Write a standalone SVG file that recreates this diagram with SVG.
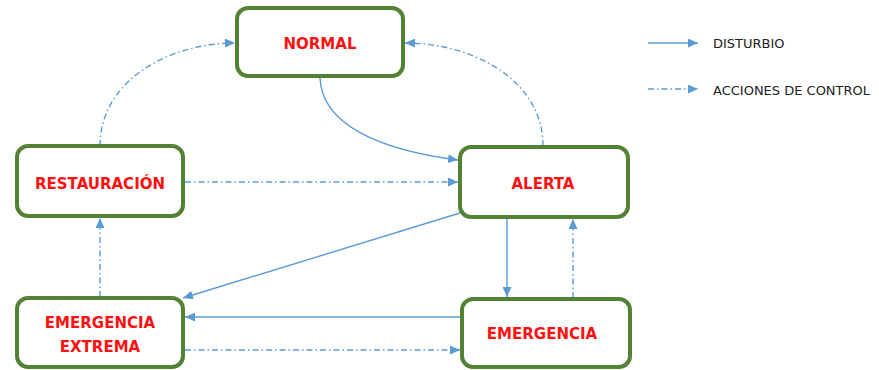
<svg xmlns="http://www.w3.org/2000/svg" width="879" height="370" viewBox="0 0 879 370">
  <style>
    .box { fill: #ffffff; stroke: #548235; stroke-width: 4; }
    .label { font-family: "DejaVu Sans", Verdana, sans-serif; font-weight: bold; font-size: 15px; fill: #ff1010; text-anchor: middle; }
    .legend { font-family: "DejaVu Sans", Verdana, sans-serif; font-size: 13px; fill: #222222; }
    .solid { fill: none; stroke: #5b9bd5; stroke-width: 1.4; marker-end: url(#arrow); }
    .dashdot { fill: none; stroke: #5b9bd5; stroke-width: 1.4; stroke-dasharray: 6 3 1.5 3; marker-end: url(#arrow); }
  </style>
  <defs>
    <marker id="arrow" markerUnits="userSpaceOnUse" markerWidth="11" markerHeight="9" refX="10" refY="4.5" orient="auto">
      <path d="M0,0 L10,4.5 L0,9 z" fill="#5b9bd5"/>
    </marker>
  </defs>
  <rect width="879" height="370" fill="#ffffff"/>

  <g id="connectors">
    <!-- disturbances -->
    <path class="solid" d="M320,78 C322,125 380,150 458,160"/>
    <path class="solid" d="M460,213 L183,298"/>
    <path class="solid" d="M507,218 L507,297"/>
    <path class="solid" d="M460,317 L185,317"/>
    <!-- control actions -->
    <path class="dashdot" d="M100,146 C100,80 170,43 235,43"/>
    <path class="dashdot" d="M543,146 C543,80 473,43 405,43"/>
    <path class="dashdot" d="M185,182 L458,182"/>
    <path class="dashdot" d="M573,298 L573,219"/>
    <path class="dashdot" d="M100,297 L100,218"/>
    <path class="dashdot" d="M185,350 L460,350"/>
  </g>

  <g id="normal">
    <rect class="box" x="237" y="8" width="166" height="68" rx="11"/>
    <text class="label" x="320" y="49">NORMAL</text>
  </g>
  <g id="restauracion">
    <rect class="box" x="17" y="146" width="166" height="70" rx="11"/>
    <text class="label" x="100" y="189">RESTAURACIÓN</text>
  </g>
  <g id="alerta">
    <rect class="box" x="460" y="147" width="168" height="70" rx="11"/>
    <text class="label" x="543" y="189">ALERTA</text>
  </g>
  <g id="emergencia-extrema">
    <rect class="box" x="17" y="298" width="166" height="69" rx="11"/>
    <text class="label" x="100" y="328">EMERGENCIA</text>
    <text class="label" x="100" y="352">EXTREMA</text>
  </g>
  <g id="emergencia">
    <rect class="box" x="462" y="299" width="168" height="68" rx="11"/>
    <text class="label" x="542" y="339">EMERGENCIA</text>
  </g>

  <g id="legend">
    <path class="solid" d="M648,43 L698,43"/>
    <text class="legend" x="713" y="48">DISTURBIO</text>
    <path class="dashdot" d="M648,89 L698,89"/>
    <text class="legend" x="713" y="95">ACCIONES DE CONTROL</text>
  </g>
</svg>
